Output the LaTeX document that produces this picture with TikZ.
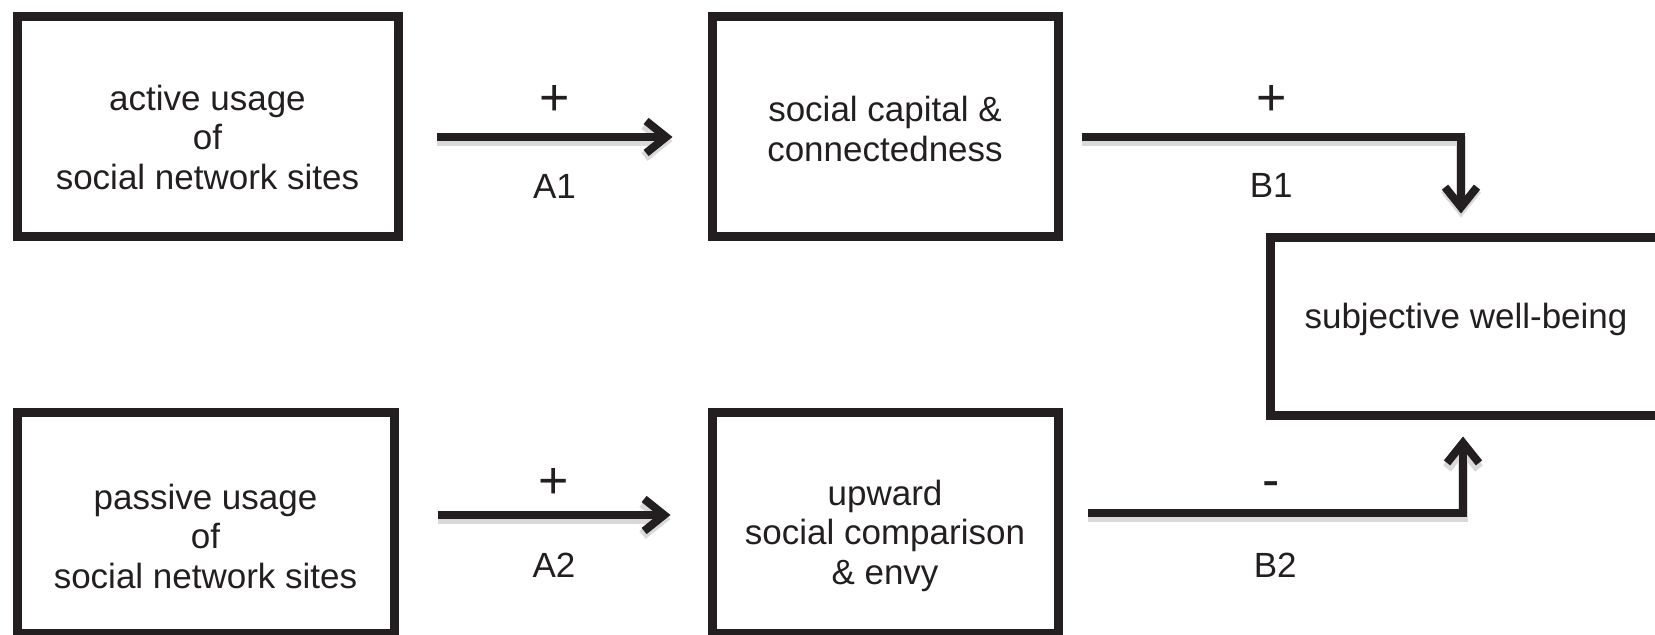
\documentclass[tikz,border=0pt]{standalone}
\usepackage{fontspec}
\setmainfont{Liberation Sans}
\usepackage{tikz}
\usetikzlibrary{arrows.meta,positioning,calc}
\definecolor{ink}{RGB}{35,31,32}

\begin{document}
\begin{tikzpicture}[x=0.5pt, y=-0.5pt,
    box/.style={draw=ink, line width=4.5pt, inner sep=0pt},
    txt/.style={font=\fontsize{17.5}{19.75}\selectfont, align=center, text=ink},
    lbl/.style={font=\fontsize{17.5}{19.75}\selectfont, text=ink, anchor=base},
    sign/.style={font=\fontsize{26}{28}\selectfont, text=ink, anchor=base},
    link/.style={draw=ink, line width=4pt, -{Straight Barb[length=10pt,width=16pt]},
        preaction={draw=black!15, line width=5pt, transform canvas={yshift=-2pt}}}]
    \useasboundingbox (0,0) rectangle (1655,635);

    % Boxes
    \node[box, minimum width=190.5pt, minimum height=110pt] (active) at (207.5,127) {};
    \node[box, minimum width=188.5pt, minimum height=110.5pt] (passive) at (205.5,523.5) {};
    \node[box, minimum width=173pt, minimum height=110pt] (capital) at (885,127) {};
    \node[box, minimum width=173pt, minimum height=110.5pt] (comparison) at (885,523.5) {};
    \node[box, minimum width=196pt, minimum height=89pt] (wellbeing) at (1466,327) {};

    % Box texts
    \node[txt] (active-txt) at ([yshift=-5pt]active.center) {active usage\\of\\social network sites};
    \node[txt] (passive-txt) at ([yshift=-6.25pt]passive.center) {passive usage\\of\\social network sites};
    \node[txt] (capital-txt) at ([yshift=-1pt]capital.center) {social capital \&\\connectedness};
    \node[txt] (comparison-txt) at ([yshift=-6pt]comparison.center) {upward\\social comparison\\\& envy};
    \node[txt] (wellbeing-txt) at ([yshift=3.75pt]wellbeing.center) {subjective well-being};

    % Paths A
    \draw[link] ([xshift=17pt,yshift=-5pt]active.east) --
        node[sign, yshift=10.8pt] {+} node[lbl, yshift=-30.75pt] {A1}
        ([xshift=-17.5pt,yshift=-5pt]capital.west);
    \draw[link] ([xshift=19.5pt,yshift=4.25pt]passive.east) --
        node[sign, yshift=8.3pt] {+} node[lbl, yshift=-31.25pt] {A2}
        ([xshift=-18.5pt,yshift=4.25pt]comparison.west);

    % Paths B
    \draw[link] ([xshift=9.5pt,yshift=-5pt]capital.east) -|
        node[sign, pos=0.25, yshift=10.8pt] {+} node[lbl, pos=0.25, yshift=-30.25pt] {B1}
        ([xshift=-2.5pt,yshift=10pt]wellbeing.north);
    \draw[link] ([xshift=12.5pt,yshift=5.25pt]comparison.east) -|
        node[sign, pos=0.25, xshift=-2pt, yshift=7.85pt] {-} node[lbl, pos=0.25, yshift=-32.25pt] {B2}
        ([xshift=-1.5pt,yshift=-8pt]wellbeing.south);
\end{tikzpicture}
\end{document}
